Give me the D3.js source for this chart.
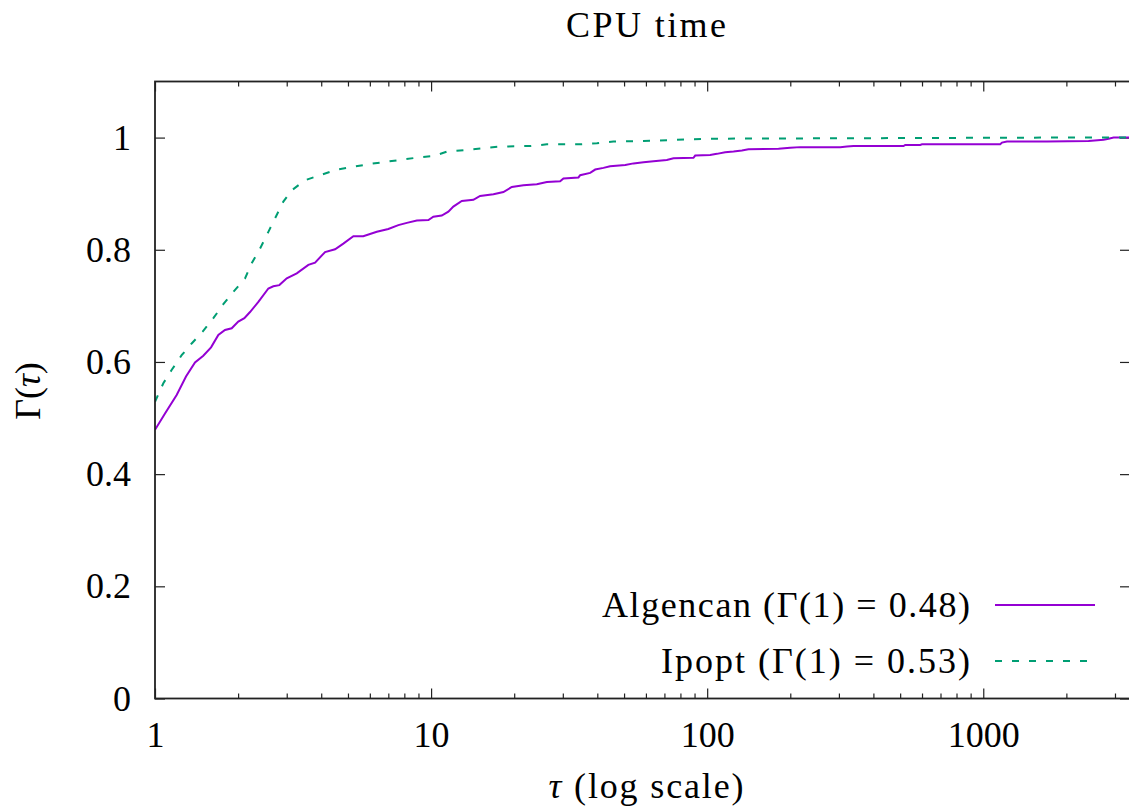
<!DOCTYPE html>
<html>
<head>
<meta charset="utf-8">
<script src="https://cdn.jsdelivr.net/npm/d3@7"></script>
<style>
  body { margin: 0; background: #fff; }
  svg text { font-family: "Liberation Serif", "DejaVu Serif", serif; fill: #000; }
</style>
</head>
<body>
<svg id="chart" width="1129" height="807"></svg>
<script>
// performance profile values
const algencanTau = [1, 1.087, 1.198, 1.295, 1.396, 1.496, 1.596, 1.696, 1.793, 1.896, 2.003, 2.107, 2.209, 2.368,
  2.574, 2.683, 2.821, 3.001, 3.262, 3.593, 3.8, 4.13, 4.49, 4.81, 5.23, 5.68, 6.36, 7.0, 7.61, 8.17, 8.88, 9.78,
  10.19, 10.93, 11.55, 12.04, 12.92, 14.23, 15.05, 16.82, 18.28, 19.61, 21.6, 24.15, 26.26, 29.34, 30.16, 34.18,
  34.67, 37.69, 39.3, 42.1, 44.5, 50.5, 54.1, 58.8, 63.9, 71.4, 75.5, 89.2, 90.5, 102.5, 108.4, 116.2, 124.6, 133.6,
  141.1, 181.3, 199.8, 217.3, 303.4, 320.8, 338.9, 514.2, 521.6, 591.2, 599.7, 1152, 1169, 1218, 1701, 2407, 2728,
  2844, 2966, 3400];
const algencanGamma = [0.479, 0.508, 0.541, 0.574, 0.599, 0.611, 0.626, 0.648, 0.657, 0.660, 0.672, 0.678, 0.689, 0.707,
  0.731, 0.735, 0.737, 0.749, 0.758, 0.773, 0.777, 0.796, 0.801, 0.811, 0.824, 0.824, 0.832, 0.837, 0.844, 0.848, 0.852, 0.853,
  0.859, 0.861, 0.868, 0.877, 0.887, 0.889, 0.896, 0.899, 0.903, 0.912, 0.915, 0.917, 0.921, 0.922, 0.927, 0.929,
  0.933, 0.937, 0.943, 0.946, 0.949, 0.951, 0.954, 0.956, 0.958, 0.960, 0.963, 0.964, 0.968, 0.969, 0.971, 0.974, 0.975, 0.977,
  0.979, 0.980, 0.982, 0.983, 0.983, 0.984, 0.985, 0.985, 0.987, 0.987, 0.988, 0.988, 0.991, 0.993, 0.993, 0.994, 0.996,
  0.998, 1.0, 1.0];

const ipoptTau = [1, 1.072, 1.150, 1.249, 1.358, 1.488, 1.627, 1.768, 1.922, 2.119, 2.240, 2.401, 2.574, 2.722, 2.917,
  3.128, 3.495, 3.961, 4.553, 5.23, 6.01, 6.91, 7.94, 9.12, 10.19, 11.40, 13.47, 15.47, 17.78, 22.84, 26.26, 34.67,
  39.85, 45.76, 58.8, 77.7, 89.2, 99.7, 1677, 3400];
const ipoptGamma = [0.529, 0.562, 0.586, 0.612, 0.633, 0.654, 0.678, 0.703, 0.725, 0.749, 0.776, 0.802, 0.832, 0.856, 0.886,
  0.906, 0.924, 0.933, 0.943, 0.948, 0.953, 0.957, 0.961, 0.965, 0.967, 0.975, 0.978, 0.981, 0.984, 0.985, 0.988, 0.988,
  0.990, 0.993, 0.994, 0.996, 0.997, 0.998, 1.0, 1.0];

const seriesNames = ["Algencan (Γ(1) = 0.48)", "Ipopt (Γ(1) = 0.53)"];
const seriesColors = ["#9400d3", "#009e73"];
const xMajorTicks = [1, 10, 100, 1000];
const yTicks = [0, 0.2, 0.4, 0.6, 0.8, 1];

const svg = d3.select("#chart");
const mLeft = 155, mRight = 1130, mTop = 81.5, mBottom = 698.5;

const x = d3.scaleLog().domain([1, 3400]).range([mLeft, mRight]);
const y = d3.scaleLinear().domain([0, 1.1]).range([mBottom, mTop]);

// minor ticks 2..9 per decade
const xMinorTicks = [];
for (let d = 1; d <= 1000; d *= 10) {
  for (let k = 2; k <= 9; k++) if (k * d < 3400) xMinorTicks.push(k * d);
}

function styleAxis(g) {
  g.select(".domain").remove();
  g.selectAll(".tick line").attr("stroke", "#222").attr("stroke-width", 1.2);
  g.selectAll(".tick text").style("font-size", "36px").attr("fill", "#000");
}

// bottom
svg.append("g").attr("transform", `translate(0,${mBottom})`)
  .call(d3.axisBottom(x).tickValues(xMinorTicks).tickSize(-5).tickFormat(""))
  .call(styleAxis);
svg.append("g").attr("transform", `translate(0,${mBottom})`)
  .call(d3.axisBottom(x).tickValues(xMajorTicks).tickSize(-10).tickPadding(23).tickFormat(d3.format("d")))
  .call(styleAxis);
// top mirror
svg.append("g").attr("transform", `translate(0,${mTop})`)
  .call(d3.axisTop(x).tickValues(xMinorTicks).tickSize(-5).tickFormat(""))
  .call(styleAxis);
svg.append("g").attr("transform", `translate(0,${mTop})`)
  .call(d3.axisTop(x).tickValues(xMajorTicks).tickSize(-10).tickFormat(""))
  .call(styleAxis);
// left
svg.append("g").attr("transform", `translate(${mLeft},0)`)
  .call(d3.axisLeft(y).tickValues(yTicks).tickSize(-10).tickPadding(24).tickFormat(d => d === 0 || d === 1 ? d : d3.format(".1f")(d)))
  .call(styleAxis);
// right mirror
svg.append("g").attr("transform", `translate(${mRight},0)`)
  .call(d3.axisRight(y).tickValues(yTicks).tickSize(-10).tickFormat(""))
  .call(styleAxis);

svg.append("clipPath").attr("id", "clip")
  .append("rect").attr("x", mLeft).attr("y", mTop).attr("width", mRight - mLeft).attr("height", mBottom - mTop);

const line = d3.line().x(d => x(d[0])).y(d => y(d[1]));

const series = [
  d3.zip(algencanTau, algencanGamma),
  d3.zip(ipoptTau, ipoptGamma)
];

svg.append("path").datum(series[0])
  .attr("clip-path", "url(#clip)")
  .attr("fill", "none").attr("stroke", seriesColors[0]).attr("stroke-width", 2)
  .attr("d", line);
svg.append("path").datum(series[1])
  .attr("clip-path", "url(#clip)")
  .attr("fill", "none").attr("stroke", seriesColors[1]).attr("stroke-width", 2)
  .attr("stroke-dasharray", "7,10")
  .attr("d", line);

// border
svg.append("rect").attr("x", mLeft).attr("y", mTop)
  .attr("width", mRight - mLeft).attr("height", mBottom - mTop)
  .attr("fill", "none").attr("stroke", "#222").attr("stroke-width", 1.8);

// legend (widths stretched to match the LaTeX typesetting)
const legY = [605, 661];
const legW = [368, 309];
seriesNames.forEach((name, i) => {
  svg.append("text").attr("x", 970).attr("y", legY[i] + 12)
    .attr("text-anchor", "end").style("font-size", "36px")
    .attr("textLength", legW[i]).attr("lengthAdjust", "spacing").text(name);
  const l = svg.append("line").attr("x1", 995).attr("x2", 1095)
    .attr("y1", legY[i]).attr("y2", legY[i])
    .attr("stroke", seriesColors[i]).attr("stroke-width", 2);
  if (i === 1) l.attr("stroke-dasharray", "7,10");
});

// title and axis labels
svg.append("text").attr("x", 646).attr("y", 37).attr("text-anchor", "middle")
  .style("font-size", "36px").attr("textLength", 160).attr("lengthAdjust", "spacing").text("CPU time");

const xl = svg.append("text").attr("x", 646).attr("y", 798).attr("text-anchor", "middle")
  .style("font-size", "36px").attr("textLength", 195).attr("lengthAdjust", "spacing");
xl.append("tspan").style("font-style", "italic").text("τ");
xl.append("tspan").text(" (log scale)");

const yl = svg.append("text").attr("transform", "translate(40,391) rotate(-90)")
  .attr("text-anchor", "middle").style("font-size", "36px");
yl.append("tspan").text("Γ(");
yl.append("tspan").style("font-style", "italic").text("τ");
yl.append("tspan").text(")");
</script>
</body>
</html>
